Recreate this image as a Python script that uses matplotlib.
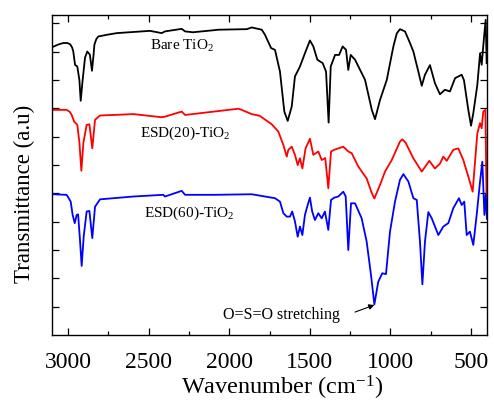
import matplotlib
matplotlib.use("Agg")
import matplotlib.pyplot as plt

plt.rcParams['font.family'] = 'Liberation Serif'
plt.rcParams['mathtext.fontset'] = 'custom'
plt.rcParams['mathtext.rm'] = 'Liberation Serif'
plt.rcParams['mathtext.it'] = 'Liberation Serif:italic'

# wavenumber (cm-1) and transmittance (a.u., offset)
bare_wn = [3096, 3060, 3030, 3005, 2988, 2975, 2968, 2957, 2943, 2930, 2922, 2910, 2895,
           2881, 2865, 2852, 2842, 2837, 2825, 2813, 2760, 2698,
           2492, 2419, 2399, 2295, 2274, 2225, 2100, 2068, 1891, 1860, 1798, 1778,
           1740, 1716, 1685, 1658, 1637, 1612, 1592, 1561, 1530, 1499, 1478, 1453,
           1420, 1399, 1383, 1370, 1343, 1318, 1296, 1275, 1261, 1246, 1219, 1157,
           1115, 1095, 1064, 1022, 981, 960, 940, 909, 878, 857, 826, 805, 785, 754, 723,
           692, 661, 630, 598, 557, 543, 516, 499, 485, 460, 443, 433, 418, 408, 402]
bare_t = [10.17, 10.26, 10.31, 10.31, 10.27, 10.15, 10.01, 9.54, 9.48, 9.0, 8.27, 9.0, 9.8,
          10.01, 9.9, 9.33, 9.9, 10.25, 10.45, 10.54, 10.60, 10.66,
          10.74, 10.66, 10.72, 10.81, 10.72, 10.69, 10.76, 10.78, 10.80, 10.86, 10.78, 10.60,
          10.13, 10.07, 9.30, 7.89, 7.56, 8.07, 9.13, 9.48, 9.95, 10.40, 10.19, 9.72,
          9.60, 9.30, 7.50, 9.48, 9.89, 9.89, 10.19, 10.07, 9.36, 9.89, 9.72, 9.01,
          7.95, 7.62, 8.30, 9.01, 10.19, 10.65, 10.80, 10.72, 10.31, 10.01, 9.30, 8.80, 9.19, 9.53, 8.89,
          8.50, 8.66, 8.60, 9.07, 9.19, 9.00, 7.95, 7.39, 7.83, 8.83, 9.95, 9.54, 10.54, 11.13, 9.60]

esd20_wn = [3096, 3009, 2990, 2978, 2963, 2943, 2930, 2918, 2905, 2885, 2868, 2850, 2833,
            2802, 2595,
            2419, 2399, 2295, 2274, 1943, 1927, 1860, 1811, 1736, 1695, 1664, 1643,
            1633, 1612, 1592, 1575, 1561, 1546, 1526, 1499, 1478, 1447, 1426, 1404,
            1385, 1368, 1348, 1292, 1261, 1240, 1199, 1147, 1115, 1099, 1064, 1033,
            991, 940, 926, 906, 857, 805, 758, 723, 692, 671, 650, 609, 578, 547,
            510, 489, 460, 443, 433, 423, 410, 402]
esd20_t = [7.95, 7.95, 7.88, 7.77, 7.54, 7.42, 6.8, 5.80, 6.8, 7.42, 7.44, 6.59, 7.60,
           7.75, 7.80,
           7.69, 7.71, 7.89, 7.77, 7.99, 7.96, 7.80, 7.74, 7.44, 7.18, 6.71, 6.30,
           6.54, 6.65, 6.36, 6.00, 6.24, 5.88, 6.59, 6.93, 6.36, 6.48, 6.18, 6.25,
           5.18, 6.48, 6.54, 6.65, 6.48, 6.42, 5.95, 5.53, 5.01, 4.82, 5.30, 5.77,
           6.18, 6.83, 6.91, 6.80, 6.24, 5.77, 6.15, 5.88, 6.05, 6.30, 6.15, 6.54, 6.59, 6.18,
           5.48, 5.06, 7.12, 7.48, 7.30, 7.89, 7.95, 4.50]

esd60_wn = [3096, 3009, 2984, 2972, 2959, 2947, 2938, 2927, 2916, 2903, 2885, 2868, 2850,
            2833, 2802, 2595, 2409, 2399, 2295, 2274, 2088, 1860, 1778, 1716, 1685, 1664,
            1643, 1623, 1609, 1592, 1575, 1561, 1546, 1530, 1513, 1499, 1485, 1468,
            1447, 1426, 1406, 1385, 1368, 1348, 1323, 1292, 1277, 1261, 1244, 1219,
            1178, 1147, 1120, 1099, 1075, 1050, 1027, 1002, 971, 940, 919, 888, 857,
            836, 816, 801, 785, 764, 743, 702, 671, 640, 609, 574, 557, 541, 526,
            506, 485, 464, 443, 429, 416, 408, 400]
esd60_t = [4.97, 4.95, 4.71, 4.24, 3.95, 4.24, 4.26, 3.4, 2.44, 3.5, 4.36, 4.38, 3.42,
           4.53, 4.79, 4.89, 4.95, 4.89, 5.09, 4.95, 4.95, 4.97, 4.89, 4.83, 4.71, 4.30,
           4.18, 4.18, 4.36, 4.01, 3.47, 3.83, 3.53, 4.24, 4.59, 4.85, 4.36, 4.06,
           4.30, 4.12, 4.36, 3.71, 4.77, 4.85, 4.89, 5.06, 4.89, 3.00, 4.65, 4.65,
           4.12, 3.30, 2.12, 1.08, 1.88, 2.18, 2.15, 3.65, 4.71, 5.48, 5.68, 5.42, 4.83,
           4.77, 3.30, 1.79, 3.30, 4.34, 4.12, 3.53, 3.83, 3.95, 4.48, 4.83, 4.59, 4.71, 3.53,
           3.65, 3.18, 4.24, 5.42, 6.12, 4.24, 4.95, 4.10]

x_ticks = [3000, 2500, 2000, 1500, 1000, 500]

fig = plt.figure(figsize=(4.94, 4.04), dpi=100)
ax = fig.add_axes([0.1053, 0.1708, 0.8805, 0.7921])

ax.plot(bare_wn, bare_t, color='black', lw=1.3)
ax.plot(esd20_wn, esd20_t, color='#ff0000', lw=1.3)
ax.plot(esd60_wn, esd60_t, color='#0000ff', lw=1.3)

ax.set_xlim(3100, 400)
ax.set_ylim(0, 11.3)
ax.set_xticks(x_ticks)
ax.set_xticks([2750, 2250, 1750, 1250, 750], minor=True)
ax.set_yticks(range(1, 12))
ax.set_yticklabels([])
ax.tick_params(which='both', direction='in', top=True, right=True)
ax.tick_params(which='major', length=5, width=0.9)
ax.tick_params(which='minor', length=3, width=0.9)
ax.tick_params(axis='x', labelsize=17, pad=12)
for s in ax.spines.values():
    s.set_linewidth(1.0)

# axis titles placed in figure pixels to match the reference
fig.text(282 / 494, 9 / 404, 'Wavenumber (cm$^{-1}$)', fontsize=17.5,
         ha='center', va='baseline')
fig.text(24 / 494, 1 - 193.5 / 404, 'Transmittance (a.u)', fontsize=16.5,
         rotation=90, ha='center', va='center')

ax.text(2490, 10.05, 'Bare TiO$_2$', fontsize=11)
ax.text(2554, 7.01, 'ESD(20)-TiO$_2$', fontsize=11)
ax.text(2527, 4.16, 'ESD(60)-TiO$_2$', fontsize=11)
ax.text(2039, 0.55, 'O=S=O stretching', fontsize=11.5)
ax.annotate('', xy=(1099, 1.06), xytext=(1219, 0.81),
            arrowprops=dict(arrowstyle='-|>', color='black', lw=0.8,
                            shrinkA=0, shrinkB=0, mutation_scale=8))

fig.savefig('out.png', dpi=100)
